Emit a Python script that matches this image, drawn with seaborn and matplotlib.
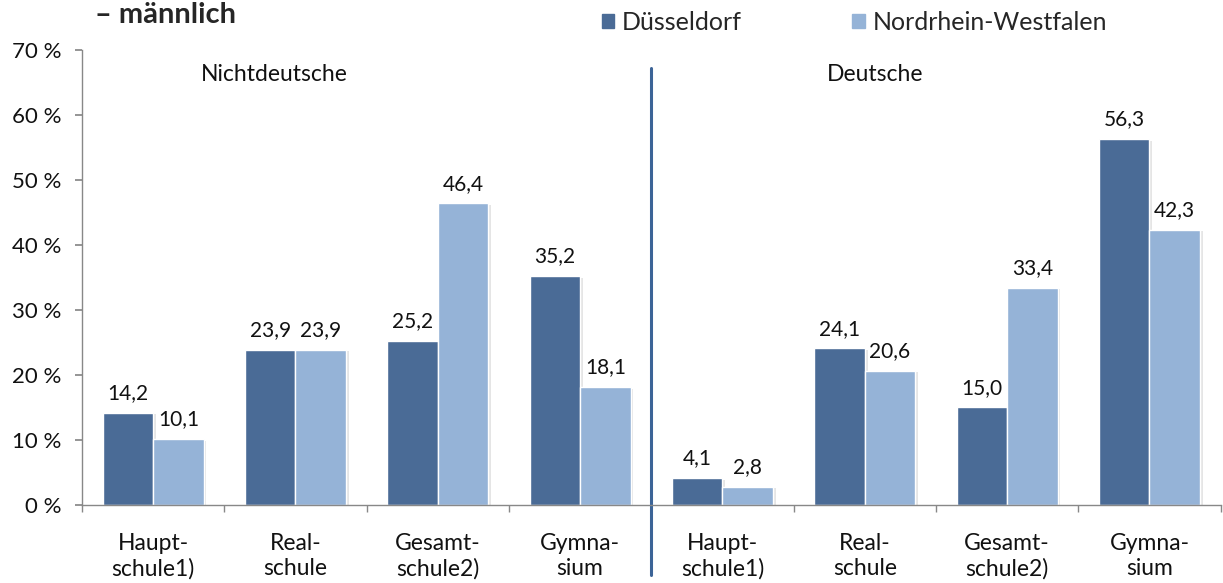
import matplotlib
matplotlib.use("Agg")
import matplotlib.pyplot as plt
import matplotlib.patheffects as pe
import seaborn as sns
import pandas as pd

# values
groups = ["Nichtdeutsche"] * 4 + ["Deutsche"] * 4
schools = ["Haupt-\nschule1)", "Real-\nschule", "Gesamt-\nschule2)", "Gymna-\nsium"] * 2
duesseldorf = [14.2, 23.9, 25.2, 35.2, 4.1, 24.1, 15.0, 56.3]
nrw = [10.1, 23.9, 46.4, 18.1, 2.8, 20.6, 33.4, 42.3]
series = ["Düsseldorf", "Nordrhein-Westfalen"]
colors = ["#4A6B96", "#95B3D7"]

keys = [f"{g}_{i}" for i, g in enumerate(groups)]
df = pd.DataFrame({
    "key": keys * 2,
    "series": [series[0]] * 8 + [series[1]] * 8,
    "value": duesseldorf + nrw,
})

sns.set_theme(style="white")
plt.rcParams["font.family"] = ["Lato", "DejaVu Sans"]

fig = plt.figure(figsize=(12.23, 5.83), dpi=100)
ax = fig.add_axes([0.067, 0.134, 0.931, 0.780])

sns.barplot(data=df, x="key", y="value", hue="series", palette=colors,
            saturation=1, width=0.71, edgecolor="white", linewidth=1.0,
            ax=ax, legend=False)

for patch in ax.patches:
    patch.set_path_effects([pe.SimplePatchShadow(offset=(2, -1), shadow_rgbFace="#999999", alpha=0.25),
                            pe.Normal()])

for cont in ax.containers:
    labels = [f"{v:.1f}".replace(".", ",") for v in cont.datavalues]
    ax.bar_label(cont, labels=labels, padding=7, fontsize=15, color="#111111")

ax.set_ylim(0, 70)
ax.set_xlim(-0.5, 7.5)
ax.set_yticks(range(0, 71, 10))
ax.set_yticklabels([f"{v} %" for v in range(0, 71, 10)], fontsize=16, color="#111111")
ax.set_xticks(range(8))
ax.set_xticklabels(schools, fontsize=16.5, linespacing=1.25, color="#111111")
ax.tick_params(axis="x", length=0, pad=20)
ax.set_xticks([i + 0.5 for i in range(-1, 8)], minor=True)
ax.tick_params(axis="x", which="minor", length=5, color="#888888", direction="out", bottom=True)
ax.tick_params(axis="y", length=5, color="#888888", direction="out", left=True, pad=10)
ax.set_xlabel("")
ax.set_ylabel("")
for s in ["top", "right"]:
    ax.spines[s].set_visible(False)
for s in ["left", "bottom"]:
    ax.spines[s].set_color("#888888")
    ax.spines[s].set_linewidth(1)

# divider between the two groups
ax.plot([3.5, 3.5], [67.2, -10.8], color="#3C6497", lw=2.2, clip_on=False)

ax.text(0.85, 66.2, "Nichtdeutsche", ha="center", va="center", fontsize=16.5, color="#111111")
ax.text(5.07, 66.2, "Deutsche", ha="center", va="center", fontsize=16.5, color="#111111")

fig.text(0.078, 0.975, "– männlich", fontsize=21, fontweight="bold", ha="left", va="center")

# legend
handles = [plt.Rectangle((0, 0), 1, 1, color=c) for c in colors]
fig.legend(handles, series, loc="center left", bbox_to_anchor=(0.492, 0.962), ncol=2,
           frameon=False, fontsize=18, handlelength=0.5, handleheight=0.5,
           handletextpad=0.32, columnspacing=4.4, borderpad=0, borderaxespad=0)

fig.savefig("out.png", dpi=100)
